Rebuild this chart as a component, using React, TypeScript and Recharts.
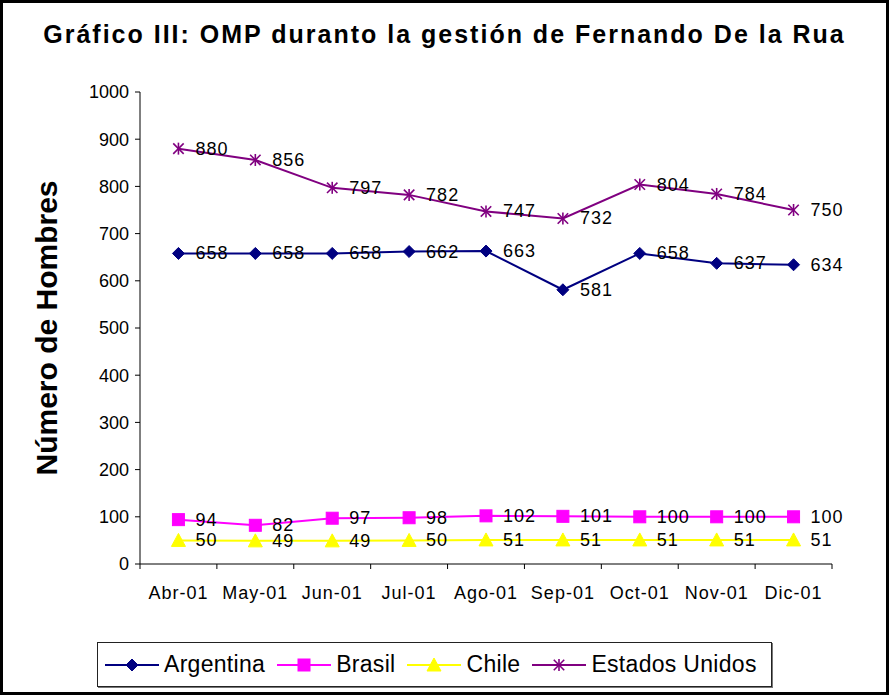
import React from 'react';
import { LineChart, Line, XAxis, YAxis, Legend, LabelList } from 'recharts';

const months = ['Abr-01', 'May-01', 'Jun-01', 'Jul-01', 'Ago-01', 'Sep-01', 'Oct-01', 'Nov-01', 'Dic-01'];
const argentina = [658, 658, 658, 662, 663, 581, 658, 637, 634];
const brasil = [94, 82, 97, 98, 102, 101, 100, 100, 100];
const chile = [50, 49, 49, 50, 51, 51, 51, 51, 51];
const estadosUnidos = [880, 856, 797, 782, 747, 732, 804, 784, 750];
const yTicks = [0, 100, 200, 300, 400, 500, 600, 700, 800, 900, 1000];

const data = months.map((m, i) => ({
  month: m,
  Argentina: argentina[i],
  Brasil: brasil[i],
  Chile: chile[i],
  'Estados Unidos': estadosUnidos[i],
}));

const W = 889;
const H = 695;
const PLOT_LEFT = 140;
const PLOT_RIGHT = 832;
const PLOT_TOP = 92;
const PLOT_BOTTOM = 564;
const Y_AXIS_W = 60;
const X_AXIS_H = 40;
const HALF = (PLOT_RIGHT - PLOT_LEFT) / months.length / 2;
const FONT = '"Liberation Sans", Arial, sans-serif';

type Shape = 'diamond' | 'square' | 'triangle' | 'star';

const Marker = ({ cx, cy, shape, color }: { cx: number; cy: number; shape: Shape; color: string }) => {
  if (cx == null || cy == null) return null;
  if (shape === 'diamond') {
    const r = 6;
    return <polygon points={`${cx},${cy - r} ${cx + r},${cy} ${cx},${cy + r} ${cx - r},${cy}`} fill={color} stroke={color} />;
  }
  if (shape === 'square') {
    return <rect x={cx - 6} y={cy - 6} width={12} height={12} fill={color} stroke={color} />;
  }
  if (shape === 'triangle') {
    return <polygon points={`${cx},${cy - 7} ${cx + 7},${cy + 6} ${cx - 7},${cy + 6}`} fill={color} stroke={color} />;
  }
  const r = 6;
  const d = r * 0.87;
  return (
    <g stroke={color} strokeWidth={1.6}>
      <line x1={cx} y1={cy - r} x2={cx} y2={cy + r} />
      <line x1={cx - d} y1={cy - d} x2={cx + d} y2={cy + d} />
      <line x1={cx - d} y1={cy + d} x2={cx + d} y2={cy - d} />
    </g>
  );
};

const series: { key: string; color: string; shape: Shape }[] = [
  { key: 'Argentina', color: '#000080', shape: 'diamond' },
  { key: 'Brasil', color: '#FF00FF', shape: 'square' },
  { key: 'Chile', color: '#FFFF00', shape: 'triangle' },
  { key: 'Estados Unidos', color: '#800080', shape: 'star' },
];

const XTick = (props: any) => {
  const { x, y, payload, index } = props;
  return (
    <g>
      <line x1={x - HALF} x2={x - HALF} y1={y - 5} y2={y} stroke="#000" />
      {index === months.length - 1 && <line x1={x + HALF} x2={x + HALF} y1={y - 5} y2={y} stroke="#000" />}
      <text x={x} y={y + 30} textAnchor="middle" fontSize={18} fill="#000" fontFamily={FONT} letterSpacing={1}>
        {payload.value}
      </text>
    </g>
  );
};

const ValueLabel = (props: any) => {
  const { x, y, value } = props;
  return (
    <text x={x + 17} y={y} dominantBaseline="central" fontSize={18} fill="#000" fontFamily={FONT} letterSpacing={1}>
      {value}
    </text>
  );
};

const LegendBox = (props: any) => {
  const { payload } = props;
  return (
    <div
      style={{
        width: '100%',
        height: '100%',
        boxSizing: 'border-box',
        border: '1px solid #222',
        boxShadow: '1px 1px 0 #777',
        display: 'flex',
        alignItems: 'center',
        paddingLeft: 7,
        fontFamily: FONT,
        fontSize: 23,
        color: '#000',
        background: '#fff',
        whiteSpace: 'nowrap',
        overflow: 'hidden',
      }}
    >
      {(payload || []).map((p: any) => {
        const s = series.find((it) => it.key === p.dataKey || it.key === p.value)!;
        return (
          <div key={s.key} style={{ display: 'flex', alignItems: 'center', marginRight: 12, flexShrink: 0 }}>
            <svg width={54} height={20}>
              <line x1={0} x2={54} y1={10} y2={10} stroke={s.color} strokeWidth={2} />
              <Marker cx={27} cy={10} shape={s.shape} color={s.color} />
            </svg>
            <span style={{ marginLeft: 5, letterSpacing: 0.3 }}>{s.key}</span>
          </div>
        );
      })}
    </div>
  );
};

export default function App() {
  return (
    <div style={{ position: 'absolute', left: 0, top: 0, width: W, height: H, background: '#fff', fontFamily: FONT }}>
      <div
        style={{
          position: 'absolute',
          left: 0,
          top: 20,
          width: W,
          textAlign: 'center',
          fontFamily: FONT,
          fontWeight: 'bold',
          fontSize: 25,
          letterSpacing: 2,
          color: '#000',
        }}
      >
        Gráfico III: OMP duranto la gestión de Fernando De la Rua
      </div>
      <LineChart
        width={W}
        height={H}
        data={data}
        margin={{ top: PLOT_TOP, left: PLOT_LEFT - Y_AXIS_W, right: W - PLOT_RIGHT, bottom: H - PLOT_BOTTOM - X_AXIS_H }}
        style={{ position: 'absolute', left: 0, top: 0 }}
      >
        <XAxis
          dataKey="month"
          height={X_AXIS_H}
          interval={0}
          tickLine={false}
          tickSize={5}
          tickMargin={0}
          axisLine={{ stroke: '#000' }}
          padding={{ left: HALF, right: HALF }}
          tick={<XTick />}
        />
        <YAxis
          width={Y_AXIS_W}
          domain={[0, 1000]}
          ticks={yTicks}
          interval={0}
          tickSize={5}
          tickMargin={6}
          axisLine={{ stroke: '#000' }}
          tickLine={{ stroke: '#000' }}
          tick={{ fill: '#000', fontSize: 18, fontFamily: FONT }}
          label={{
            content: () => (
              <text
                x={46}
                y={328}
                transform="rotate(-90 46 328)"
                textAnchor="middle"
                dominantBaseline="central"
                fontSize={30}
                fontWeight="bold"
                fontFamily={FONT}
                fill="#000"
              >
                Número de Hombres
              </text>
            ),
          }}
        />
        {series.map((s) => (
          <Line
            key={s.key}
            dataKey={s.key}
            type="linear"
            stroke={s.color}
            strokeWidth={2}
            isAnimationActive={false}
            dot={(p: any) => <Marker key={`${s.key}-${p.index}`} cx={p.cx} cy={p.cy} shape={s.shape} color={s.color} />}
            activeDot={false}
          >
            <LabelList dataKey={s.key} content={<ValueLabel />} />
          </Line>
        ))}
        <Legend
          layout="horizontal"
          verticalAlign="middle"
          align="center"
          wrapperStyle={{ left: 97, top: 642, width: 675, height: 45 }}
          content={<LegendBox />}
        />
      </LineChart>
      <div
        style={{
          position: 'absolute',
          left: 0,
          top: 0,
          width: W,
          height: H,
          boxSizing: 'border-box',
          border: '3px solid #000',
          pointerEvents: 'none',
        }}
      />
    </div>
  );
}
